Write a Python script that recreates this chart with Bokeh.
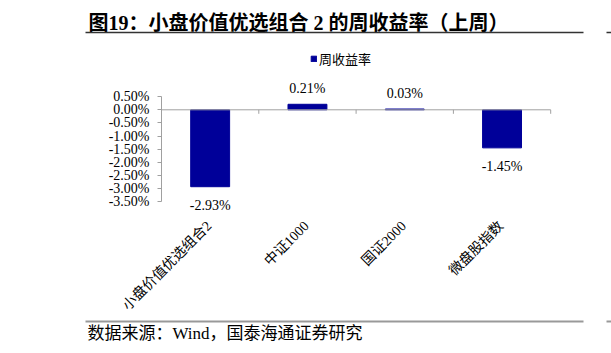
import math
from bokeh.plotting import figure
from bokeh.models import (Range1d, FixedTicker, PrintfTickFormatter, LinearAxis,
                          Legend, LegendItem, ColumnDataSource)
from bokeh.core.properties import value
from bokeh.embed import file_html
from bokeh.resources import INLINE

# ---- data ----
categories = ["小盘价值优选组合2", "中证1000", "国证2000", "微盘股指数"]
weekly_return = [-2.93, 0.21, 0.03, -1.45]
y_ticks = [-3.5, -3.0, -2.5, -2.0, -1.5, -1.0, -0.5, 0.0, 0.5]
series_name = "周收益率"
title_text = "图19：小盘价值优选组合 2 的周收益率（上周）"
source_text = "数据来源：Wind，国泰海通证券研究"

FONT = "Liberation Serif, Noto Sans CJK SC"
BAR = "#000099"
W, H = 611, 353

# ---- layout geometry (pixels) ----
frame_left = 60          # left border reserved for the y-axis panel
axis_px = 161            # where the value axis sits
cat_px = 97.3            # width of one category slot
zero_px = 109.3          # pixel row of 0 %
px_per_pct = 26.25

x_start = -(axis_px - frame_left) / cat_px
x_end = (W - axis_px) / cat_px
y_end = zero_px / px_per_pct
y_start = -(H - zero_px) / px_per_pct

p = figure(width=W, height=H, x_range=Range1d(x_start, x_end),
           y_range=Range1d(y_start, y_end),
           toolbar_location=None, output_backend="svg",
           min_border_left=frame_left, min_border_right=0,
           min_border_top=0, min_border_bottom=0,
           x_axis_location=None, y_axis_location=None)
p.title.visible = False
p.outline_line_color = None
p.grid.visible = False
p.extra_x_ranges = {"px": Range1d(frame_left, W)}
p.extra_y_ranges = {"px": Range1d(H, 0)}

n = len(categories)
src = ColumnDataSource(dict(
    x=[i + 0.5 for i in range(n)], cat=categories, val=weekly_return,
    lab=["%.2f%%" % v for v in weekly_return],
    off=[-16 if v >= 0 else 19 for v in weekly_return],
))

# bars
bars = p.vbar(x="x", top="val", bottom=0, width=0.4, source=src,
              fill_color=BAR, line_color=BAR, line_width=1)

# category baseline at 0 with slot ticks
p.segment(x0=[0], y0=[0], x1=[n], y1=[0], line_color="#a0a0a0", line_width=1)
tick_len = 4 / px_per_pct
edges = list(range(1, n + 1))
p.segment(x0=edges, y0=[0] * n, x1=edges, y1=[-tick_len] * n,
          line_color="#a0a0a0", line_width=1)

# value labels
p.text(x="x", y="val", text="lab", y_offset="off", source=src,
       text_font=value(FONT), text_font_size="14px", text_align="center",
       text_baseline="middle", text_color="#000000")

# category labels, rotated 45 degrees under the plot
p.text(x="x", y=y_ticks[0], text="cat", source=src, angle=math.pi / 4,
       x_offset=-1, y_offset=22, text_font=value(FONT), text_font_size="14px",
       text_align="right", text_baseline="middle", text_color="#000000")

# value axis, fixed at the left edge of the first slot
ya = LinearAxis(fixed_location=0)
ya.ticker = FixedTicker(ticks=y_ticks)
ya.formatter = PrintfTickFormatter(format="%.2f%%")
ya.bounds = (y_ticks[0], y_ticks[-1])
ya.axis_line_color = "#a0a0a0"
ya.major_tick_line_color = "#a0a0a0"
ya.major_tick_out = 4
ya.major_tick_in = 0
ya.minor_tick_line_color = None
ya.major_label_standoff = 8
ya.major_label_text_font = FONT
ya.major_label_text_font_size = "14px"
ya.major_label_text_color = "#000000"
p.add_layout(ya, "left")

# legend
legend = Legend(items=[LegendItem(label=series_name, renderers=[bars])],
                location=(250, H - 67.5), padding=0, margin=0, spacing=0,
                glyph_width=7, glyph_height=7, label_standoff=2,
                label_height=14, border_line_color=None,
                background_fill_alpha=0, label_text_font=FONT,
                label_text_font_size="13px", label_text_color="#000000")
p.add_layout(legend)

# title, rules and source note (pixel coordinates)
p.text(x=[88], y=[22], text=[title_text], x_range_name="px", y_range_name="px",
       text_font=value(FONT), text_font_size="20px", text_font_style="bold",
       text_baseline="middle", text_align="left", text_color="#000000")
p.segment(x0=[85, 606], y0=[32, 32], x1=[583, 611], y1=[32, 32],
          x_range_name="px", y_range_name="px",
          line_color="#333333", line_width=1.5)
p.segment(x0=[85, 606], y0=[321, 321], x1=[583, 611], y1=[321, 321],
          x_range_name="px", y_range_name="px",
          line_color="#999999", line_width=2)
p.text(x=[87], y=[333], text=[source_text], x_range_name="px", y_range_name="px",
       text_font=value(FONT), text_font_size="17px", text_baseline="middle",
       text_align="left", text_color="#000000")

open("out.html", "w").write(file_html(p, INLINE))
